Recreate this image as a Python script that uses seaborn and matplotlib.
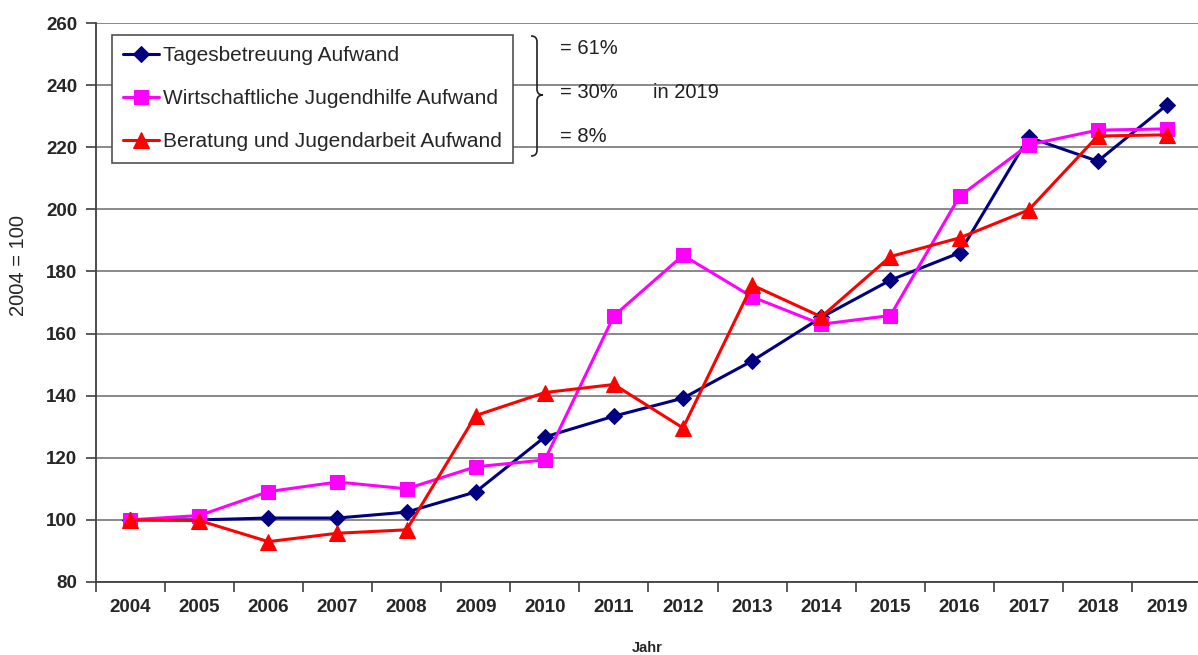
import matplotlib
matplotlib.use("Agg")
import matplotlib.pyplot as plt
from matplotlib.path import Path
from matplotlib.patches import PathPatch
from matplotlib.ticker import FixedLocator, NullFormatter, FixedFormatter
import seaborn as sns
import pandas as pd

years = list(range(2004, 2020))
tagesbetreuung = [100, 100, 100.6, 100.6, 102.5, 109, 126.7, 133.4, 139.2, 151.2,
                  165.2, 177.2, 186, 223.2, 215.5, 233.6]
wirtschaftliche = [100, 101.4, 109.1, 112.2, 110, 117.1, 119.3, 165.7, 185.2, 171.8,
                   163, 165.8, 204.2, 220.8, 225.5, 225.9]
beratung = [100, 99.8, 93, 95.7, 96.8, 133.6, 141, 143.6, 129.6, 175.6,
            165.4, 184.8, 190.8, 199.8, 223.6, 224]
labels = ["Tagesbetreuung Aufwand", "Wirtschaftliche Jugendhilfe Aufwand",
          "Beratung und Jugendarbeit Aufwand"]
shares = ["= 61%", "= 30%", "= 8%"]
share_note = "in 2019"
y_ticks = list(range(80, 261, 20))

sns.set_theme(style="white")
plt.rcParams['font.family'] = ['Liberation Sans', 'DejaVu Sans']

W, H = 1198, 655
fig = plt.figure(figsize=(W / 100, H / 100), dpi=100)
ax = fig.add_axes([95.5 / W, 1 - 582 / H, 1 - 95.5 / W, (582 - 23) / H])

series = [
    (tagesbetreuung, labels[0], "#000080", "D", 8.5),
    (wirtschaftliche, labels[1], "#FF00FF", "s", 10),
    (beratung, labels[2], "#FF0000", "^", 11),
]
for vals, lab, col, mk, ms in series:
    df = pd.DataFrame({"Jahr": years, "Wert": vals})
    sns.lineplot(data=df, x="Jahr", y="Wert", ax=ax, color=col, marker=mk,
                 markersize=ms, markeredgecolor=col, linewidth=2.2, label=lab,
                 clip_on=False)

ax.set_ylim(80, 260)
ax.set_xlim(2003.5, 2019.45)
ax.yaxis.set_major_locator(FixedLocator(y_ticks))
ax.set_yticklabels([str(t) for t in y_ticks], fontsize=13.5, fontweight="bold")
ax.grid(axis="y", color="#808080", linewidth=1.3)
ax.grid(axis="x", visible=False)

bounds = [y - 0.5 for y in years]
ax.xaxis.set_major_locator(FixedLocator(bounds))
ax.xaxis.set_major_formatter(NullFormatter())
ax.xaxis.set_minor_locator(FixedLocator(years))
ax.xaxis.set_minor_formatter(FixedFormatter([str(y) for y in years]))
ax.tick_params(axis="x", which="major", length=7, width=1.2, color="#404040",
               direction="out", bottom=True)
ax.tick_params(axis="x", which="minor", length=0, pad=12, labelsize=13.5)
for t in ax.xaxis.get_minorticklabels():
    t.set_fontweight("bold")
ax.tick_params(axis="y", length=7, width=1.2, color="#404040", left=True,
               direction="out", pad=6)

for s in ["top", "right"]:
    ax.spines[s].set_visible(False)
for s in ["left", "bottom"]:
    ax.spines[s].set_color("#404040")
    ax.spines[s].set_linewidth(1.3)

ax.set_xlabel("Jahr", fontsize=10.5, fontweight="bold")
ax.xaxis.set_label_coords((647 - 95.5) / (W - 95.5), -(648 - 582) / (582 - 23))
ax.xaxis.label.set_va("center")
ax.set_ylabel("2004 = 100", fontsize=14.5)
ax.yaxis.set_label_coords(-(95.5 - 19) / (W - 95.5), (582 - 265) / (582 - 23))
ax.yaxis.label.set_va("center")

leg = ax.legend(loc="upper left", bbox_to_anchor=(112 / W, 1 - 35 / H),
                bbox_transform=fig.transFigure, fontsize=15, frameon=True,
                fancybox=False, edgecolor="#505050", framealpha=1,
                handlelength=1.7, handletextpad=0.2, labelspacing=1.15,
                borderpad=0.55, borderaxespad=0)
leg.get_frame().set_linewidth(1.2)

# curly brace
def fp(x, y):
    return (x / W, 1 - y / H)

verts = [fp(531, 36), fp(535, 36), fp(537, 38), fp(537, 42),
         fp(537, 89),
         fp(537, 93), fp(539, 95), fp(543, 95),
         fp(539, 95), fp(537, 97), fp(537, 101),
         fp(537, 150),
         fp(537, 154), fp(535, 156), fp(531, 156)]
codes = [Path.MOVETO, Path.CURVE4, Path.CURVE4, Path.CURVE4,
         Path.LINETO,
         Path.CURVE4, Path.CURVE4, Path.CURVE4,
         Path.CURVE4, Path.CURVE4, Path.CURVE4,
         Path.LINETO,
         Path.CURVE4, Path.CURVE4, Path.CURVE4]
fig.add_artist(PathPatch(Path(verts, codes), transform=fig.transFigure,
                         facecolor="none", edgecolor="#202020", linewidth=1.2))

for txt, yy in zip(shares, [49, 93, 137]):
    fig.text(560 / W, 1 - yy / H, txt, fontsize=14.5, va="center", ha="left",
             color="#202020")
fig.text(653 / W, 1 - 93 / H, share_note, fontsize=14.5, va="center", ha="left",
         color="#202020")

fig.savefig("out.png", dpi=100)
